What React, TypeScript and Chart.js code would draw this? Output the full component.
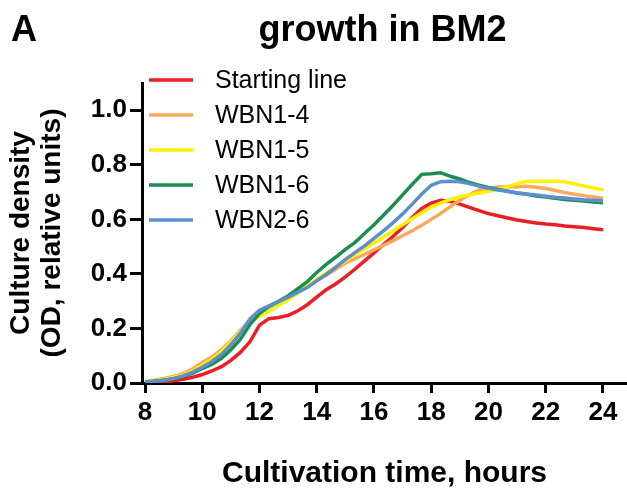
import { useEffect, useRef } from "react";
import { Chart, registerables } from "chart.js";

Chart.register(...registerables);

// Sampling times (hours), one reading every 20 minutes
const hours = [
  8, 8.33, 8.67, 9, 9.33, 9.67, 10, 10.33, 10.67, 11, 11.33, 11.67, 12, 12.33, 12.67, 13, 13.33,
  13.67, 14, 14.33, 14.67, 15, 15.33, 15.67, 16, 16.33, 16.67, 17, 17.33, 17.67, 18, 18.33, 18.67,
  19, 19.33, 19.67, 20, 20.33, 20.67, 21, 21.33, 21.67, 22, 22.33, 22.67, 23, 23.33, 23.67, 24,
];

// Culture density (OD, relative units) per strain
const startingLine = [
  0.0, 0.002, 0.004, 0.008, 0.014, 0.021, 0.031, 0.044, 0.06, 0.083, 0.112, 0.152, 0.212, 0.236,
  0.24, 0.248, 0.264, 0.287, 0.315, 0.342, 0.364, 0.389, 0.417, 0.448, 0.477, 0.508, 0.538, 0.57,
  0.607, 0.64, 0.66, 0.67, 0.666, 0.656, 0.644, 0.632, 0.621, 0.613, 0.605, 0.598, 0.592, 0.587,
  0.583, 0.58, 0.576, 0.573, 0.57, 0.566, 0.562,
];
const wbn1_4 = [
  0.006, 0.011, 0.017, 0.024, 0.035, 0.052, 0.075, 0.095, 0.122, 0.155, 0.193, 0.23, 0.262, 0.282,
  0.298, 0.315, 0.333, 0.352, 0.375, 0.395, 0.418, 0.44, 0.455, 0.472, 0.488, 0.505, 0.522, 0.54,
  0.558, 0.578, 0.6, 0.622, 0.647, 0.67, 0.69, 0.708, 0.715, 0.719, 0.72, 0.72, 0.721, 0.718,
  0.713, 0.706, 0.698, 0.692, 0.687, 0.682, 0.677,
];
const wbn1_5 = [
  0.004, 0.008, 0.013, 0.02, 0.03, 0.045, 0.065, 0.087, 0.115, 0.15, 0.188, 0.222, 0.245, 0.263,
  0.285, 0.305, 0.33, 0.355, 0.38, 0.403, 0.425, 0.447, 0.47, 0.492, 0.513, 0.535, 0.558, 0.58,
  0.602, 0.625, 0.645, 0.66, 0.673, 0.683, 0.69, 0.697, 0.703, 0.71, 0.72, 0.731, 0.74, 0.74, 0.74,
  0.74, 0.738, 0.73, 0.722, 0.715, 0.708,
];
const wbn1_6 = [
  0.003, 0.006, 0.01, 0.016, 0.024, 0.036, 0.053, 0.068, 0.09, 0.122, 0.16, 0.215, 0.255, 0.28,
  0.3, 0.32, 0.345, 0.372, 0.405, 0.435, 0.462, 0.49, 0.515, 0.548, 0.58, 0.615, 0.652, 0.69,
  0.728, 0.765, 0.767, 0.771, 0.758, 0.748, 0.735, 0.725, 0.717, 0.71, 0.703, 0.697, 0.692, 0.686,
  0.682, 0.677, 0.673, 0.67, 0.667, 0.664, 0.661,
];
const wbn2_6 = [
  0.003, 0.006, 0.01, 0.016, 0.026, 0.04, 0.058, 0.078, 0.105, 0.14, 0.182, 0.235, 0.267, 0.283,
  0.298, 0.315, 0.332, 0.35, 0.375, 0.398, 0.425, 0.452, 0.478, 0.503, 0.53, 0.558, 0.588, 0.62,
  0.655, 0.693, 0.725, 0.738, 0.74, 0.738, 0.731, 0.722, 0.714, 0.708, 0.703, 0.697, 0.693, 0.689,
  0.685, 0.681, 0.678, 0.675, 0.672, 0.67, 0.667,
];

const seriesLabels = ["Starting line", "WBN1-4", "WBN1-5", "WBN1-6", "WBN2-6"];
const seriesValues = [startingLine, wbn1_4, wbn1_5, wbn1_6, wbn2_6];
const seriesColors = ["#EE1C25", "#F9A95B", "#FFF000", "#1E8B50", "#5B90CC"];

const panelLetter = "A";
const chartTitle = "growth in BM2";
const xTitle = "Cultivation time, hours";
const yTitle = ["Culture density", "(OD, relative units)"];

const FONT = "'Liberation Sans', Arial, sans-serif";

// Panel letter, heading and an in-plot legend with line swatches
const panelText = {
  id: "panelText",
  afterDraw(chart: any) {
    const { ctx, chartArea } = chart;
    ctx.save();
    ctx.fillStyle = "#000";
    ctx.font = `bold 36px ${FONT}`;
    ctx.textBaseline = "alphabetic";
    ctx.textAlign = "left";
    ctx.fillText(panelLetter, 11, 41);
    ctx.textAlign = "center";
    ctx.fillText(chartTitle, (chartArea.left + chartArea.right) / 2 - 2, 41);

    ctx.font = `25px ${FONT}`;
    ctx.textAlign = "left";
    ctx.textBaseline = "middle";
    chart.data.datasets.forEach((ds: any, i: number) => {
      const y = chartArea.top - 3 + i * 35;
      const x0 = chartArea.left + 7;
      ctx.strokeStyle = ds.borderColor;
      ctx.lineWidth = 3.5;
      ctx.beginPath();
      ctx.moveTo(x0, y);
      ctx.lineTo(x0 + 44, y);
      ctx.stroke();
      ctx.fillStyle = "#000";
      ctx.fillText(ds.label, x0 + 66, y + 1);
    });
    ctx.restore();
  },
};

export default function App() {
  const canvasRef = useRef<HTMLCanvasElement | null>(null);

  useEffect(() => {
    const canvas = canvasRef.current;
    if (!canvas) return;

    const order = [5, 4, 3, 2, 1];
    const chart = new Chart(canvas, {
      type: "line",
      data: {
        datasets: seriesLabels.map((label, i) => ({
          label,
          data: hours.map((h, j) => ({ x: h, y: seriesValues[i][j] })),
          borderColor: seriesColors[i],
          backgroundColor: seriesColors[i],
          borderWidth: 3.5,
          pointRadius: 0,
          tension: 0,
          fill: false,
          order: order[i],
        })),
      },
      options: {
        responsive: false,
        animation: false,
        events: [],
        layout: { padding: { top: 83, right: 0, bottom: 0, left: 0 } },
        plugins: {
          legend: { display: false },
          title: { display: false },
          tooltip: { enabled: false },
        },
        scales: {
          x: {
            type: "linear",
            min: 7.895,
            max: 24.84,
            afterFit(scale: any) {
              scale.height = 118;
            },
            ticks: {
              stepSize: 2,
              includeBounds: false,
              color: "#000",
              padding: 4,
              maxRotation: 0,
              font: { family: FONT, size: 26, weight: "bold" },
            },
            grid: {
              drawOnChartArea: false,
              drawTicks: true,
              tickLength: 10,
              lineWidth: 3,
              color: "#000",
              tickColor: "#000",
            },
            border: { display: true, color: "#000", width: 3 },
            title: {
              display: true,
              text: xTitle,
              color: "#000",
              font: { family: FONT, size: 30, weight: "bold", lineHeight: 1.1 },
              padding: { top: 0, bottom: 11 },
            },
          },
          y: {
            type: "linear",
            min: 0,
            max: 1.1,
            afterFit(scale: any) {
              scale.width = 142;
            },
            ticks: {
              stepSize: 0.2,
              includeBounds: false,
              color: "#000",
              padding: 3,
              font: { family: FONT, size: 26, weight: "bold" },
              callback: (v: any) => Number(v).toFixed(1),
            },
            grid: {
              drawOnChartArea: false,
              drawTicks: true,
              tickLength: 12,
              lineWidth: 3,
              color: "#000",
              tickColor: "#000",
            },
            border: { display: true, color: "#000", width: 3 },
            title: {
              display: true,
              text: yTitle,
              color: "#000",
              font: { family: FONT, size: 28, weight: "bold", lineHeight: 1.1 },
              padding: { top: 6, bottom: 0 },
            },
          },
        },
      },
      plugins: [panelText],
    });

    return () => chart.destroy();
  }, []);

  return (
    <div style={{ position: "absolute", left: 0, top: 0, width: 627, height: 501, background: "#fff" }}>
      <canvas ref={canvasRef} width={627} height={501} />
    </div>
  );
}
